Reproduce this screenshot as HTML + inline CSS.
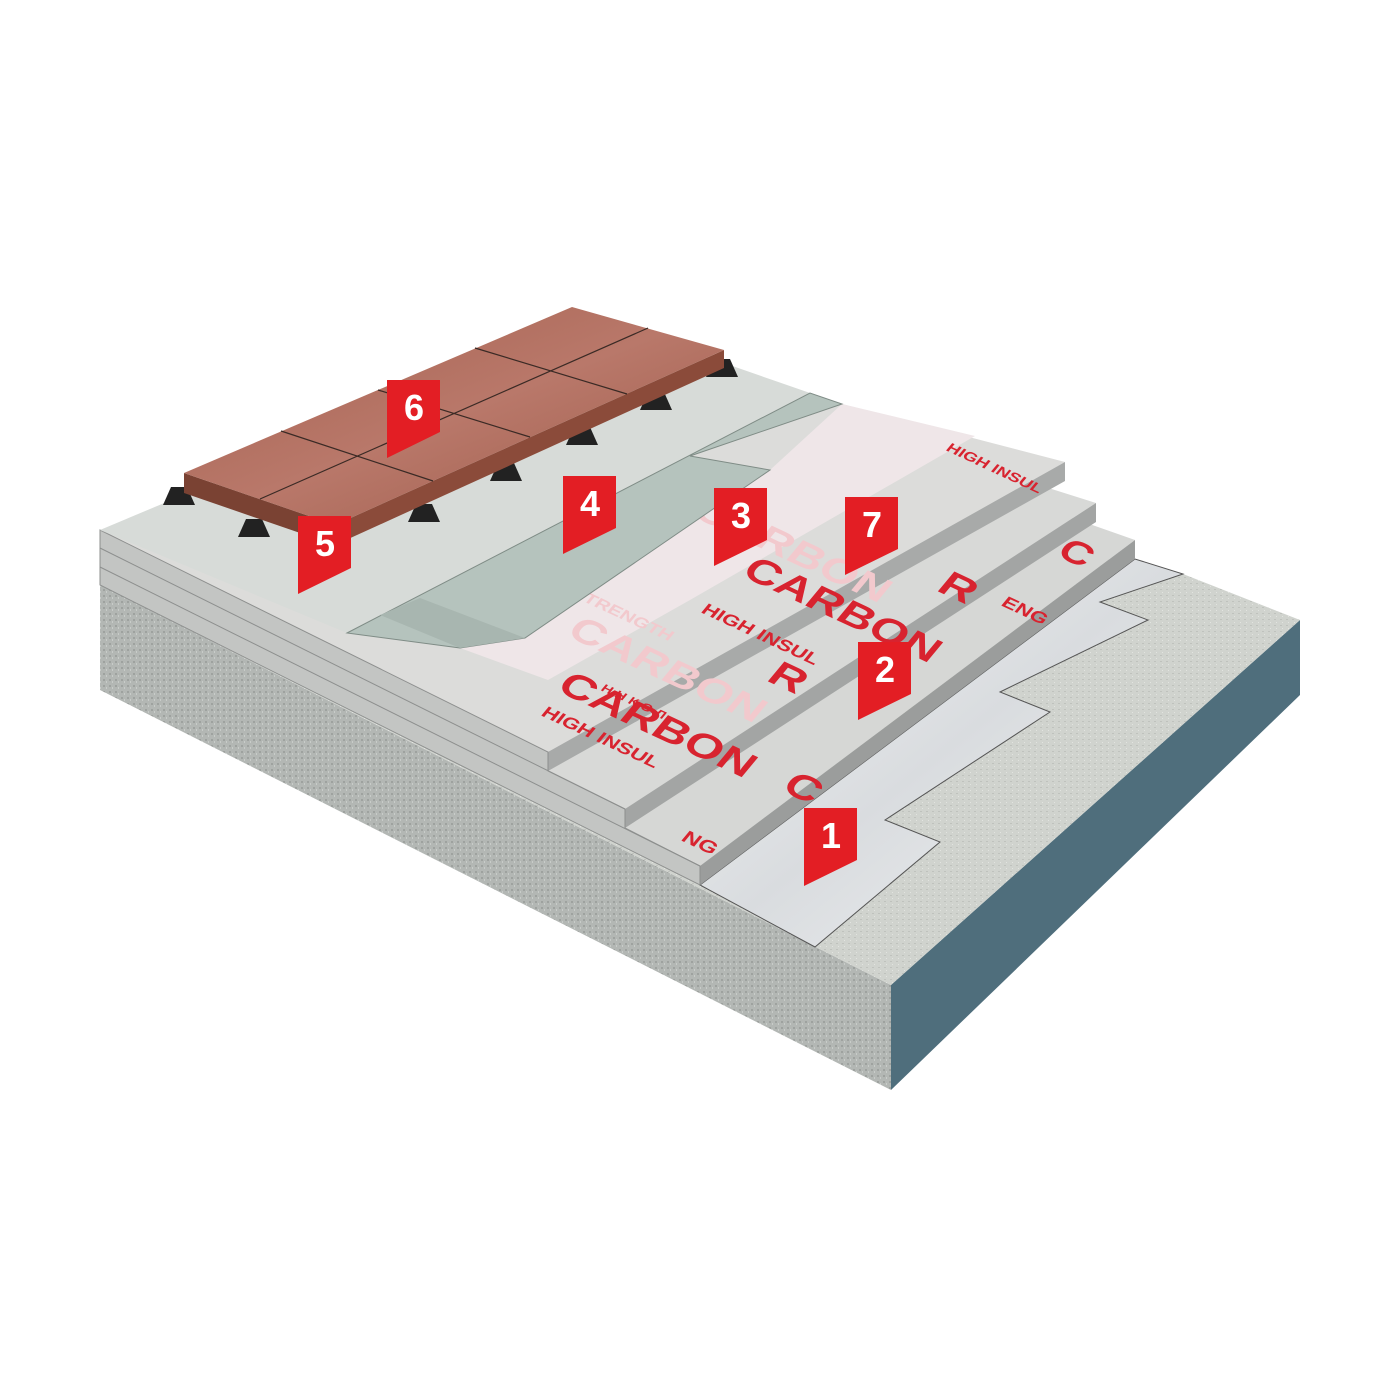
<!DOCTYPE html>
<html><head><meta charset="utf-8"><style>
html,body{margin:0;padding:0;background:#fff;}
svg{display:block;}
text{font-family:"Liberation Sans",sans-serif;font-weight:bold;}
</style></head><body>
<svg width="1400" height="1400" viewBox="0 0 1400 1400" xmlns="http://www.w3.org/2000/svg">
<defs>
<linearGradient id="foil" x1="0" y1="0" x2="1" y2="1">
<stop offset="0" stop-color="#f4f5f6"/><stop offset="0.5" stop-color="#d9dcdf"/><stop offset="1" stop-color="#f2f3f4"/></linearGradient>
<linearGradient id="tile" x1="0" y1="0" x2="1" y2="1">
<stop offset="0" stop-color="#a4604e"/><stop offset="0.5" stop-color="#b9786a"/><stop offset="1" stop-color="#9c5a48"/></linearGradient>
<pattern id="grain" width="6" height="6" patternUnits="userSpaceOnUse">
<rect width="6" height="6" fill="#b3b7b4"/><rect x="1" y="1" width="2" height="2" fill="#9ea29f"/><rect x="4" y="3" width="1" height="2" fill="#c8ccc9"/></pattern>
<pattern id="grain2" width="6" height="6" patternUnits="userSpaceOnUse">
<rect width="6" height="6" fill="#d0d3ce"/><rect x="2" y="1" width="2" height="1" fill="#bfc2bd"/><rect x="4" y="4" width="1" height="1" fill="#e2e4e0"/></pattern>
</defs>

<!-- slab -->
<polygon points="100,585 891,985 891,1090 100,690" fill="url(#grain)"/>
<polygon points="891,985 1300,620 1300,695 891,1090" fill="#4f6e7c"/>
<polygon points="100,585 1135,559 1183,574 1300,620 891,985" fill="url(#grain2)"/>

<!-- foil -->
<polygon points="700,885 815,947 940,842 885,820 1050,712 1000,692 1148,620 1100,602 1183,574 1135,559" fill="url(#foil)" stroke="#555" stroke-width="1"/>

<!-- L1 -->
<polygon points="100,567 580,345 1135,540 700,866" fill="#d6d7d5"/>
<polygon points="700,866 1135,540 1135,559 700,885" fill="#9b9d9c"/>
<!-- L2 -->
<polygon points="100,548 580,340 1096,503 625,809" fill="#d8d9d7"/>
<polygon points="625,809 1096,503 1096,522 625,828" fill="#a3a5a4"/>
<!-- L3 -->
<polygon points="100,530 842,404 1065,462 548,752" fill="#dcdcda"/>
<polygon points="548,752 1065,462 1065,481 548,771" fill="#a8aaa9"/>
<!-- front face -->
<polygon points="100,530 548,752 548,771 625,809 625,828 700,866 700,885 100,585" fill="#c3c5c3" stroke="#8d8f8e" stroke-width="1"/>
<line x1="100" y1="548" x2="625" y2="809" stroke="#8d8f8e"/>
<line x1="100" y1="567" x2="700" y2="866" stroke="#8d8f8e"/>

<!-- film 3 -->
<polygon points="460,648 770,470 842,404 975,436 690,600 548,680" fill="#efe6e8"/>
<!-- red board texts -->
<g fill="#d8232f">
<text transform="matrix(0.9,0.42,-0.5,0.6,740,575)" font-size="48">CARBON</text>
<text transform="matrix(0.9,0.42,-0.5,0.6,555,690)" font-size="48">CARBON</text>
<text transform="matrix(0.9,0.42,-0.5,0.6,700,612)" font-size="22">HIGH INSUL</text>
<text transform="matrix(0.9,0.42,-0.5,0.6,540,715)" font-size="22">HIGH INSUL</text>
<text transform="matrix(0.9,0.42,-0.5,0.6,945,450)" font-size="18">HIGH INSUL</text>
<text transform="matrix(0.9,0.42,-0.5,0.6,765,680)" font-size="48">R</text>
<text transform="matrix(0.9,0.42,-0.5,0.6,935,590)" font-size="48">R</text>
<text transform="matrix(0.9,0.42,-0.5,0.6,1055,555)" font-size="44">C</text>
<text transform="matrix(0.9,0.42,-0.5,0.6,780,790)" font-size="48">C</text>
<text transform="matrix(0.9,0.42,-0.5,0.6,680,840)" font-size="24">NG</text>
<text transform="matrix(0.9,0.42,-0.5,0.6,1000,605)" font-size="22">ENG</text>
<text transform="matrix(0.9,0.42,-0.5,0.6,600,690)" font-size="15">Н Н К О Л</text>
</g>
<g fill="#f2c9cd">
<text transform="matrix(0.9,0.42,-0.5,0.6,565,635)" font-size="48">CARBON</text>
<text transform="matrix(0.9,0.42,-0.5,0.6,690,515)" font-size="48">CARBON</text>
<text transform="matrix(0.9,0.42,-0.5,0.6,570,595)" font-size="20">STRENGTH</text>
</g>

<!-- geotextile 5 -->
<polygon points="100,530 600,320 810,393 347,633" fill="#d7dbd8"/>
<!-- green membrane 4 -->
<polygon points="347,633 810,393 842,404 690,456 770,470 525,638 460,648" fill="#b5c3bd" stroke="#7f8c86" stroke-width="1"/>
<polygon points="380,615 460,648 525,638 420,598" fill="#a8b6b0"/>

<!-- pedestals -->
<g fill="#222">
<path d="M163,505 l8,-18 h16 l8,18 z"/><path d="M238,537 l8,-18 h16 l8,18 z"/>
<path d="M408,522 l8,-18 h16 l8,18 z"/><path d="M490,481 l8,-18 h16 l8,18 z"/>
<path d="M566,445 l8,-18 h16 l8,18 z"/><path d="M640,410 l8,-18 h16 l8,18 z"/>
<path d="M706,377 l8,-18 h16 l8,18 z"/>
</g>
<!-- tiles -->
<polygon points="184,473 335,525 335,545 184,493" fill="#7a4233"/>
<polygon points="335,525 724,350 724,368 335,545" fill="#8b4b3a"/>
<polygon points="184,473 572,307 724,350 335,525" fill="url(#tile)"/>
<g stroke="#3a2a25" stroke-width="1.2">
<line x1="281" y1="431" x2="433" y2="481"/><line x1="378" y1="390" x2="530" y2="437"/><line x1="475" y1="348" x2="627" y2="394"/>
<line x1="260" y1="499" x2="648" y2="328"/>
</g>

<!-- markers -->
<g fill="#e31e24">
<path d="M387,380 h53 v52 l-53,26 z"/>
<path d="M298,516 h53 v52 l-53,26 z"/>
<path d="M563,476 h53 v52 l-53,26 z"/>
<path d="M714,488 h53 v52 l-53,26 z"/>
<path d="M845,497 h53 v52 l-53,26 z"/>
<path d="M858,642 h53 v52 l-53,26 z"/>
<path d="M804,808 h53 v52 l-53,26 z"/>
</g>
<g fill="#fff" font-size="36" text-anchor="middle">
<text x="414" y="420">6</text><text x="325" y="556">5</text><text x="590" y="516">4</text>
<text x="741" y="528">3</text><text x="872" y="537">7</text><text x="885" y="682">2</text>
<text x="831" y="848">1</text>
</g>
</svg>
</body></html>
